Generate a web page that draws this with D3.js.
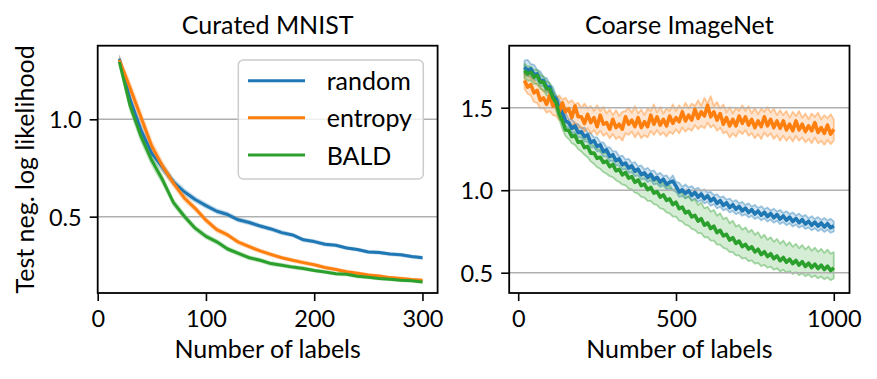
<!DOCTYPE html>
<html>
<head>
<meta charset="utf-8">
<script src="https://cdn.jsdelivr.net/npm/d3@7"></script>
<style>
  body { margin: 0; background: #fff; }
  svg text { font-family: Lato, "DejaVu Sans", sans-serif; fill: #000; }
</style>
</head>
<body>
<svg id="chart" width="877" height="379"></svg>
<script>
// ---- data ----
// left panel: Curated MNIST, test NLL vs number of labels
const mnistN = [20,30,40,50,60,70,80,90,100,110,120,130,140,150,160,170,180,190,200,210,220,230,240,250,260,270,280,290,300];
const mnistRandom  = [1.310,1.100,0.945,0.825,0.752,0.678,0.628,0.588,0.557,0.528,0.511,0.484,0.470,0.452,0.437,0.418,0.406,0.381,0.372,0.358,0.353,0.339,0.331,0.319,0.316,0.308,0.304,0.295,0.289];
const mnistEntropy = [1.305,1.160,1.010,0.862,0.758,0.672,0.596,0.543,0.482,0.433,0.406,0.369,0.346,0.324,0.306,0.289,0.276,0.264,0.253,0.239,0.229,0.217,0.209,0.200,0.195,0.187,0.183,0.177,0.173];
const mnistBald    = [1.295,1.068,0.912,0.788,0.688,0.572,0.502,0.441,0.399,0.371,0.334,0.311,0.289,0.276,0.259,0.251,0.241,0.234,0.224,0.216,0.207,0.204,0.194,0.189,0.182,0.179,0.173,0.171,0.165];
const mnistRandomSd  = [0.020,0.028,0.030,0.026,0.022,0.018,0.016,0.014,0.013,0.012,0.012,0.011,0.011,0.010,0.010,0.010,0.009,0.009,0.009,0.009,0.008,0.008,0.008,0.008,0.008,0.008,0.008,0.008,0.008];
const mnistEntropySd = [0.020,0.030,0.032,0.028,0.024,0.020,0.017,0.015,0.014,0.013,0.012,0.011,0.011,0.010,0.010,0.009,0.009,0.009,0.009,0.008,0.008,0.008,0.008,0.008,0.007,0.007,0.007,0.007,0.007];
const mnistBaldSd    = [0.022,0.030,0.030,0.026,0.022,0.018,0.016,0.014,0.013,0.012,0.011,0.011,0.010,0.010,0.010,0.009,0.009,0.009,0.008,0.008,0.008,0.008,0.008,0.007,0.007,0.007,0.007,0.007,0.007];

// right panel: Coarse ImageNet (mean, lower and upper edge of the shaded band), every 10 labels
const imagenetN = [
  20,30,40,50,60,70,80,90,100,110,
  120,130,140,150,160,170,180,190,200,210,
  220,230,240,250,260,270,280,290,300,310,
  320,330,340,350,360,370,380,390,400,410,
  420,430,440,450,460,470,480,490,500,510,
  520,530,540,550,560,570,580,590,600,610,
  620,630,640,650,660,670,680,690,700,710,
  720,730,740,750,760,770,780,790,800,810,
  820,830,840,850,860,870,880,890,900,910,
  920,930,940,950,960,970,980,990,1000];
const inRandom = [
  1.745,1.725,1.735,1.70,1.705,1.665,1.665,1.625,1.625,1.57,
  1.555,1.495,1.475,1.42,1.41,1.375,1.39,1.35,1.355,1.325,
  1.335,1.29,1.30,1.265,1.275,1.235,1.245,1.205,1.215,1.18,
  1.19,1.155,1.165,1.135,1.148,1.115,1.128,1.095,1.105,1.078,
  1.097,1.065,1.078,1.05,1.067,1.035,1.048,1.055,1.025,0.99,
  1.002,0.98,0.997,0.968,0.987,0.958,0.977,0.948,0.967,0.935,
  0.952,0.92,0.937,0.908,0.924,0.895,0.912,0.885,0.902,0.875,
  0.892,0.865,0.882,0.856,0.874,0.848,0.867,0.84,0.859,0.833,
  0.852,0.825,0.844,0.818,0.837,0.81,0.829,0.803,0.822,0.795,
  0.812,0.787,0.807,0.782,0.802,0.777,0.797,0.772,0.785];
const inRandomHi = [
  1.785,1.79,1.765,1.76,1.73,1.72,1.685,1.68,1.645,1.625,
  1.575,1.55,1.495,1.47,1.43,1.43,1.405,1.40,1.375,1.38,
  1.35,1.345,1.32,1.32,1.29,1.29,1.26,1.26,1.235,1.235,
  1.205,1.21,1.185,1.19,1.165,1.17,1.145,1.15,1.125,1.135,
  1.115,1.12,1.095,1.105,1.085,1.09,1.065,1.09,1.05,1.045,
  1.02,1.035,1.015,1.025,1.005,1.015,0.995,1.005,0.985,0.99,
  0.97,0.975,0.955,0.963,0.942,0.95,0.93,0.94,0.92,0.93,
  0.91,0.92,0.90,0.911,0.892,0.903,0.885,0.895,0.877,0.888,
  0.87,0.88,0.862,0.873,0.855,0.865,0.847,0.858,0.84,0.85,
  0.83,0.842,0.825,0.837,0.82,0.832,0.815,0.827,0.81];
const inRandomLo = [
  1.70,1.69,1.69,1.67,1.665,1.635,1.63,1.595,1.59,1.54,
  1.52,1.465,1.44,1.39,1.375,1.345,1.35,1.32,1.32,1.295,
  1.295,1.26,1.26,1.235,1.235,1.205,1.205,1.175,1.18,1.15,
  1.15,1.125,1.13,1.105,1.11,1.085,1.09,1.065,1.07,1.05,
  1.06,1.035,1.04,1.02,1.03,1.005,1.01,1.00,0.99,0.96,
  0.965,0.95,0.96,0.94,0.95,0.93,0.94,0.92,0.93,0.905,
  0.915,0.89,0.90,0.878,0.887,0.865,0.875,0.855,0.865,0.845,
  0.855,0.835,0.845,0.826,0.837,0.818,0.83,0.81,0.822,0.803,
  0.815,0.795,0.807,0.788,0.80,0.78,0.792,0.773,0.785,0.765,
  0.775,0.757,0.77,0.752,0.765,0.747,0.76,0.742,0.75];
const inEntropy = [
  1.665,1.625,1.64,1.59,1.605,1.545,1.56,1.52,1.575,1.51,
  1.515,1.475,1.53,1.475,1.495,1.44,1.51,1.445,1.445,1.405,
  1.46,1.41,1.44,1.385,1.455,1.40,1.41,1.37,1.43,1.38,
  1.40,1.37,1.445,1.40,1.425,1.385,1.44,1.38,1.415,1.385,
  1.455,1.40,1.445,1.395,1.43,1.39,1.45,1.405,1.44,1.415,
  1.475,1.42,1.455,1.425,1.49,1.435,1.475,1.45,1.515,1.445,
  1.475,1.425,1.465,1.40,1.44,1.39,1.43,1.39,1.45,1.405,
  1.445,1.395,1.43,1.38,1.42,1.385,1.445,1.39,1.43,1.38,
  1.42,1.375,1.42,1.365,1.40,1.36,1.42,1.365,1.40,1.355,
  1.39,1.36,1.41,1.35,1.38,1.345,1.395,1.34,1.37];
const inEntropyHi = [
  1.71,1.70,1.68,1.665,1.64,1.63,1.60,1.61,1.59,1.585,
  1.56,1.575,1.55,1.56,1.53,1.545,1.52,1.53,1.50,1.525,
  1.495,1.51,1.48,1.515,1.48,1.505,1.465,1.49,1.455,1.485,
  1.45,1.475,1.48,1.50,1.47,1.51,1.465,1.49,1.455,1.495,
  1.48,1.52,1.47,1.505,1.465,1.495,1.48,1.52,1.48,1.515,
  1.49,1.53,1.495,1.525,1.51,1.545,1.51,1.56,1.525,1.57,
  1.51,1.535,1.495,1.52,1.47,1.505,1.465,1.50,1.48,1.515,
  1.48,1.51,1.465,1.50,1.46,1.495,1.475,1.505,1.47,1.495,
  1.455,1.485,1.455,1.48,1.44,1.475,1.45,1.48,1.44,1.465,
  1.43,1.465,1.445,1.47,1.43,1.455,1.435,1.46,1.43];
const inEntropyLo = [
  1.615,1.585,1.575,1.535,1.53,1.495,1.50,1.47,1.48,1.455,
  1.45,1.425,1.44,1.41,1.415,1.39,1.41,1.375,1.385,1.355,
  1.375,1.345,1.365,1.335,1.36,1.33,1.345,1.315,1.34,1.31,
  1.325,1.30,1.345,1.335,1.355,1.32,1.35,1.315,1.335,1.32,
  1.36,1.335,1.365,1.335,1.35,1.325,1.355,1.34,1.37,1.345,
  1.38,1.355,1.375,1.36,1.395,1.37,1.39,1.375,1.41,1.38,
  1.395,1.36,1.38,1.345,1.355,1.32,1.345,1.325,1.36,1.34,
  1.365,1.33,1.345,1.315,1.34,1.31,1.35,1.325,1.345,1.31,
  1.335,1.30,1.33,1.30,1.325,1.295,1.33,1.30,1.32,1.29,
  1.31,1.285,1.32,1.285,1.30,1.275,1.305,1.28,1.30];
const inBald = [
  1.725,1.705,1.715,1.685,1.695,1.655,1.655,1.615,1.612,1.56,
  1.532,1.46,1.42,1.365,1.362,1.325,1.332,1.29,1.295,1.258,
  1.265,1.225,1.226,1.193,1.20,1.168,1.176,1.143,1.156,1.118,
  1.127,1.093,1.107,1.073,1.082,1.048,1.062,1.028,1.037,1.003,
  1.017,0.983,0.992,0.958,0.972,0.938,0.947,0.913,0.927,0.888,
  0.897,0.863,0.872,0.838,0.847,0.813,0.827,0.788,0.802,0.768,
  0.782,0.743,0.757,0.723,0.732,0.698,0.712,0.678,0.692,0.658,
  0.672,0.643,0.657,0.626,0.642,0.61,0.627,0.598,0.615,0.585,
  0.602,0.573,0.592,0.563,0.582,0.555,0.574,0.546,0.567,0.538,
  0.558,0.531,0.552,0.525,0.546,0.519,0.54,0.513,0.53];
const inBaldHi = [
  1.765,1.75,1.75,1.73,1.73,1.70,1.69,1.66,1.65,1.605,
  1.57,1.505,1.46,1.42,1.41,1.375,1.375,1.345,1.34,1.31,
  1.31,1.28,1.27,1.25,1.245,1.225,1.225,1.20,1.205,1.175,
  1.175,1.15,1.155,1.13,1.135,1.11,1.115,1.09,1.095,1.07,
  1.08,1.055,1.06,1.035,1.045,1.02,1.03,1.00,1.01,0.98,
  0.985,0.955,0.965,0.935,0.945,0.91,0.925,0.89,0.90,0.87,
  0.88,0.845,0.86,0.825,0.835,0.80,0.815,0.78,0.79,0.76,
  0.775,0.745,0.76,0.73,0.745,0.712,0.73,0.70,0.715,0.687,
  0.705,0.675,0.695,0.665,0.685,0.657,0.675,0.648,0.668,0.64,
  0.66,0.633,0.652,0.627,0.645,0.62,0.64,0.615,0.625];
const inBaldLo = [
  1.68,1.665,1.665,1.645,1.645,1.615,1.605,1.575,1.565,1.525,
  1.485,1.43,1.37,1.33,1.31,1.285,1.275,1.25,1.235,1.215,
  1.20,1.175,1.16,1.14,1.13,1.11,1.10,1.085,1.08,1.06,
  1.05,1.035,1.03,1.01,1.005,0.985,0.98,0.96,0.955,0.935,
  0.935,0.915,0.91,0.89,0.885,0.865,0.86,0.84,0.84,0.815,
  0.81,0.79,0.785,0.765,0.76,0.74,0.74,0.715,0.715,0.695,
  0.695,0.67,0.67,0.65,0.645,0.625,0.625,0.605,0.605,0.585,
  0.59,0.57,0.575,0.555,0.56,0.54,0.548,0.53,0.537,0.518,
  0.527,0.508,0.518,0.50,0.51,0.492,0.503,0.485,0.497,0.478,
  0.49,0.472,0.483,0.466,0.477,0.46,0.472,0.455,0.465];

const methods = ["random", "entropy", "BALD"];
const mnistXTicks = [0, 100, 200, 300];
const mnistYTicks = [0.5, 1.0];
const imagenetXTicks = [0, 500, 1000];
const imagenetYTicks = [0.5, 1.0, 1.5];

// ---- drawing ----
const svg = d3.select("#chart");
const colors = ["#1f77b4", "#ff7f0e", "#2ca02c"];
const tickFont = 23.5, labelFont = 25;

function drawPanel(p) {
  const g = svg.append("g");
  const x = d3.scaleLinear().domain(p.xDomain).range([p.left, p.right]);
  const y = d3.scaleLinear().domain(p.yDomain).range([p.bottom, p.top]);

  // shaded bands (fill_between style: translucent fill + translucent edge)
  p.series.forEach((s, k) => {
    const area = d3.area()
      .x((d, i) => x(p.n[i]))
      .y0((d, i) => y(s.lo[i]))
      .y1((d, i) => y(s.hi[i]));
    g.append("path").datum(s.mean)
      .attr("d", area)
      .attr("fill", colors[k]).attr("fill-opacity", 0.2)
      .attr("stroke", colors[k]).attr("stroke-opacity", p.edgeOpacity)
      .attr("stroke-width", p.edgeWidth).attr("stroke-linejoin", "round");
  });

  // horizontal grid
  g.append("g").selectAll("line").data(p.yTicks).join("line")
    .attr("x1", p.left).attr("x2", p.right)
    .attr("y1", d => y(d)).attr("y2", d => y(d))
    .attr("stroke", "#b0b0b0").attr("stroke-width", 1.5);

  // mean curves
  const line = d3.line().x((d, i) => x(p.n[i])).y(d => y(d));
  p.series.forEach((s, k) => {
    g.append("path").datum(s.mean)
      .attr("d", line)
      .attr("fill", "none").attr("stroke", colors[k])
      .attr("stroke-width", p.meanWidth).attr("stroke-linejoin", "round");
  });

  // frame
  g.append("rect")
    .attr("x", p.left).attr("y", p.top)
    .attr("width", p.right - p.left).attr("height", p.bottom - p.top)
    .attr("fill", "none").attr("stroke", "#000").attr("stroke-width", 1.8);

  // axes
  const xa = g.append("g").attr("transform", `translate(0,${p.bottom})`)
    .call(d3.axisBottom(x).tickValues(p.xTicks).tickSize(8).tickFormat(d3.format("d")));
  const ya = g.append("g").attr("transform", `translate(${p.left},0)`)
    .call(d3.axisLeft(y).tickValues(p.yTicks).tickSize(8).tickFormat(d3.format(".1f")));
  [xa, ya].forEach(a => {
    a.select(".domain").remove();
    a.selectAll(".tick line").attr("stroke", "#000").attr("stroke-width", 1.6);
    a.selectAll("text").attr("font-size", tickFont).attr("font-family", null);
  });
  xa.selectAll("text").attr("y", 34.3).attr("dy", null);
  ya.selectAll("text").attr("x", -16).attr("dy", "0.36em");

  // title and x label
  const cx = (p.left + p.right) / 2;
  g.append("text").attr("x", cx).attr("y", 34).attr("text-anchor", "middle")
    .attr("font-size", labelFont).text(p.title);
  g.append("text").attr("x", cx).attr("y", 358).attr("text-anchor", "middle")
    .attr("font-size", labelFont).text("Number of labels");
  return { g, x, y };
}

const withSd = (m, sd) => ({ mean: m, lo: m.map((v, i) => v - sd[i]), hi: m.map((v, i) => v + sd[i]) });

drawPanel({
  title: "Curated MNIST",
  left: 97.7, right: 437.6, top: 45.7, bottom: 293,
  xDomain: [0, 314], yDomain: [0.108, 1.378],
  xTicks: mnistXTicks, yTicks: mnistYTicks,
  n: mnistN, edgeOpacity: 0.2, edgeWidth: 1.2, meanWidth: 3,
  series: [withSd(mnistRandom, mnistRandomSd), withSd(mnistEntropy, mnistEntropySd), withSd(mnistBald, mnistBaldSd)]
});

drawPanel({
  title: "Coarse ImageNet",
  left: 509.2, right: 849.5, top: 45.7, bottom: 293,
  xDomain: [-28.5, 1049.8], yDomain: [0.377, 1.876],
  xTicks: imagenetXTicks, yTicks: imagenetYTicks,
  n: imagenetN, edgeOpacity: 0.4, edgeWidth: 1.8, meanWidth: 3.6,
  series: [
    { mean: inRandom, lo: inRandomLo, hi: inRandomHi },
    { mean: inEntropy, lo: inEntropyLo, hi: inEntropyHi },
    { mean: inBald, lo: inBaldLo, hi: inBaldHi }
  ]
});

// y label
svg.append("text")
  .attr("transform", "translate(33.5,169.4) rotate(-90)")
  .attr("text-anchor", "middle").attr("font-size", labelFont)
  .text("Test neg. log likelihood");

// legend (upper right of left panel)
const lg = svg.append("g");
lg.append("rect").attr("x", 238.3).attr("y", 60).attr("width", 185).attr("height", 119)
  .attr("rx", 5).attr("fill", "#fff").attr("fill-opacity", 0.8)
  .attr("stroke", "#cccccc").attr("stroke-width", 1.5);
const rowY = d3.scalePoint().domain(methods).range([80.7, 155]);
methods.forEach((m, k) => {
  lg.append("line").attr("x1", 248).attr("x2", 305)
    .attr("y1", rowY(m)).attr("y2", rowY(m))
    .attr("stroke", colors[k]).attr("stroke-width", 3);
  lg.append("text").attr("x", 326.7).attr("y", rowY(m) + 9.5)
    .attr("font-size", labelFont).text(m);
});
</script>
</body>
</html>
